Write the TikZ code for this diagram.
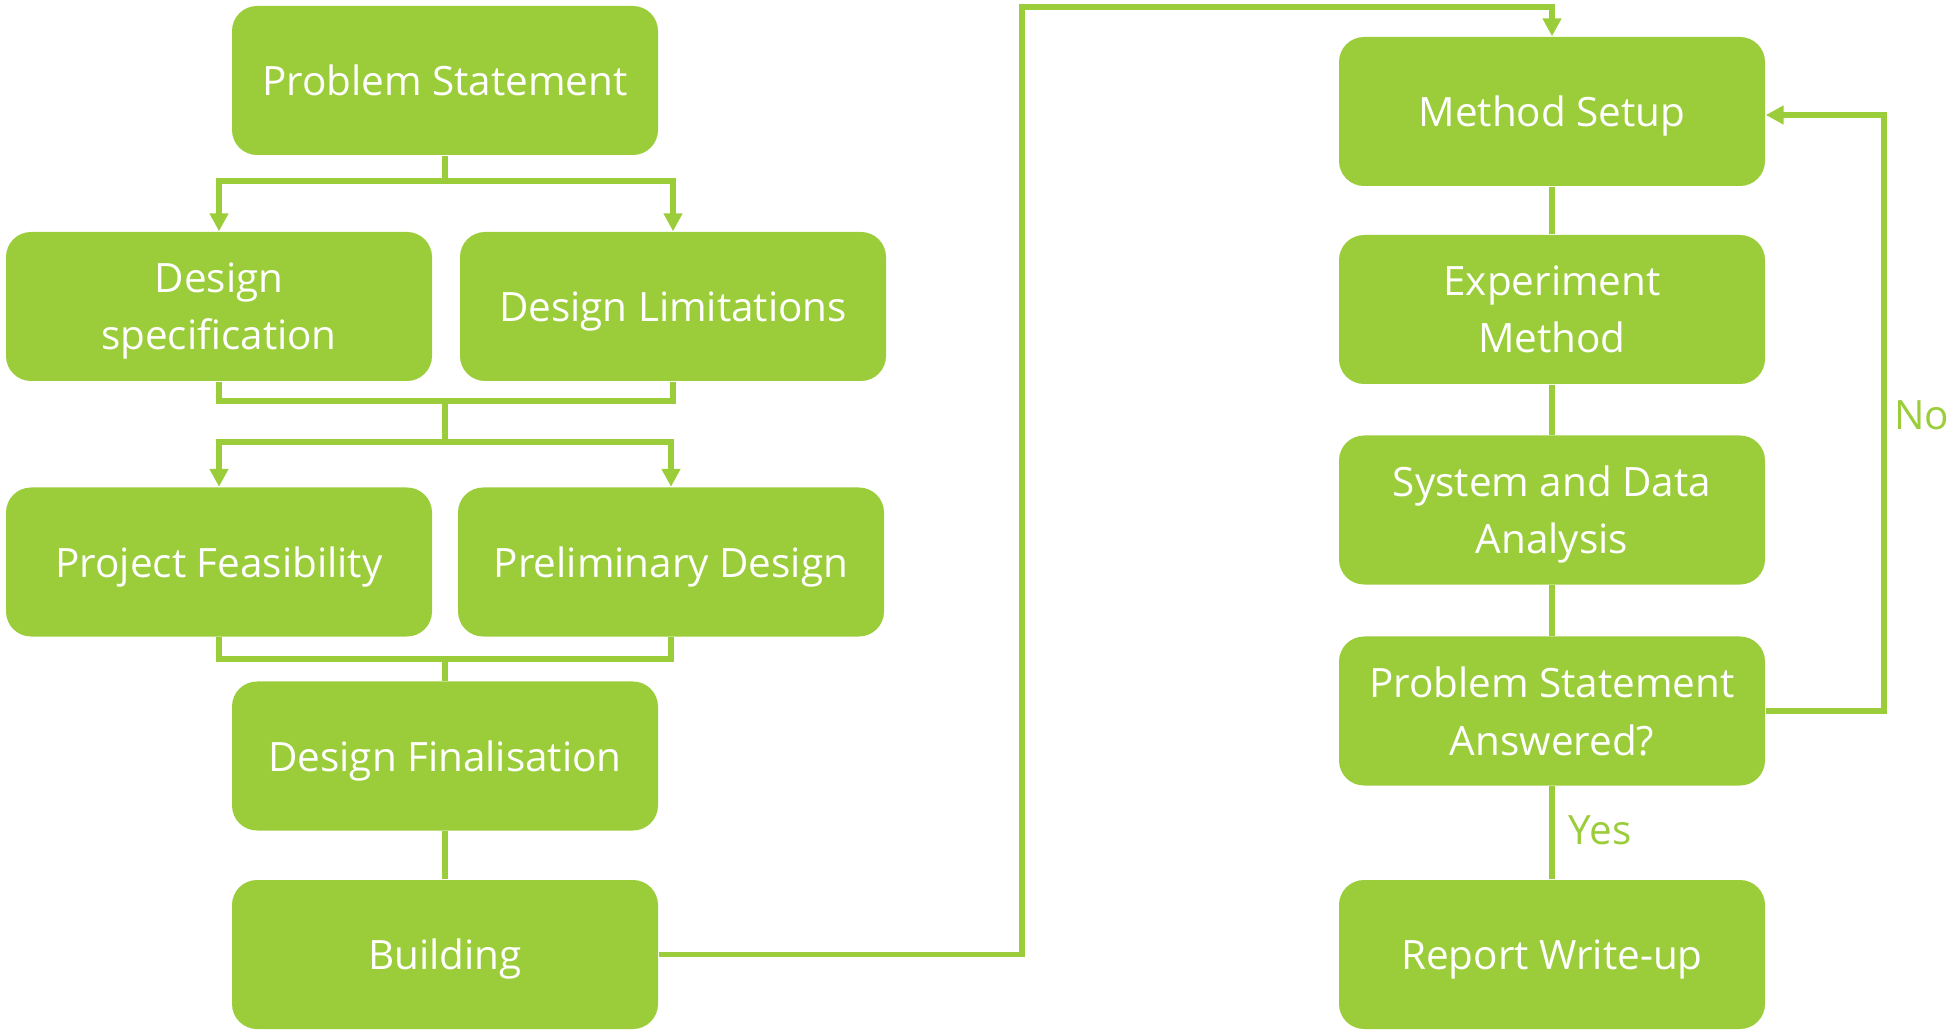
\documentclass[tikz,border=0pt]{standalone}
\usepackage{fontspec}
\setmainfont{Open Sans}
\usepackage{tikz}
\usetikzlibrary{arrows.meta}
\definecolor{MyGreen}{RGB}{155,205,58}

\begin{document}
\begin{tikzpicture}
       \tikzstyle{every node}=[font=\fontsize{11.5}{16.3}\selectfont]
       \tikzstyle{box}=[fill=MyGreen, rounded corners=0.25cm, minimum width=4.26cm,
                        minimum height=1.49cm, inner sep=0pt, text depth=0pt,
                        text=white, align=center]
       \tikzstyle{link}=[draw=MyGreen, line width=1.6pt, line join=miter]
       \tikzstyle{arr}=[link, -{Triangle[width=0.18cm,length=0.18cm]}]
       \tikzstyle{lbl}=[text=MyGreen, inner sep=0pt]
        \useasboundingbox (0,0) rectangle (19.54,10.30);

        % design branch
        \node[box] (ps) at (4.45, 9.495) {Problem Statement};
        \node[box] (dspec) at (2.19, 7.235) {Design\\specification};
        \node[box] (dlim) at (6.73, 7.235) {Design Limitations};
        \node[box] (feas) at (2.19, 4.68) {Project Feasibility};
        \node[box] (prelim) at (6.71, 4.68) {Preliminary Design};
        \node[box] (final) at (4.45, 2.74) {Design Finalisation};
        \node[box] (build) at (4.45, 0.755) {Building};

        % testing branch
        \node[box] (setup) at (15.52, 9.185) {Method Setup};
        \node[box] (expm) at (15.52, 7.205) {Experiment\\Method};
        \node[box] (sda) at (15.52, 5.20) {System and Data\\Analysis};
        \node[box] (answ) at (15.52, 3.19) {Problem Statement\\Answered?};
        \node[box] (report) at (15.52, 0.755) {Report Write-up};

        \coordinate (j1) at (4.45, 8.49);
        \coordinate (j2) at (4.45, 6.29);
        \coordinate (j3) at (4.45, 5.88);
        \coordinate (j4) at (4.45, 3.71);
        \coordinate (top) at (10.22, 10.23);
        \coordinate (back) at (18.84, 9.15);

        \draw[link] (ps.south) -- (j1);
        \draw[arr] (j1) -| (dspec.north);
        \draw[arr] (j1) -| (dlim.north);
        \draw[link] (dspec.south) |- (j2) -| (dlim.south);
        \draw[link] (j2) -- (j3);
        \draw[arr] (j3) -| (feas.north);
        \draw[arr] (j3) -| (prelim.north);
        \draw[link] (feas.south) |- (j4) -| (prelim.south);
        \draw[link] (j4) -- (final.north);
        \draw[link] (final) -- (build);
        \draw[arr] (build.east) -| (top) -| (setup.north);

        \draw[link] (setup) -- (expm);
        \draw[link] (expm) -- (sda);
        \draw[link] (sda) -- (answ);
        \draw[link] (answ) -- (report);
        \draw[arr] (answ.east) -| (back) -- (back -| setup.east);

        \node[lbl, anchor=west] (yes) at (15.68, 2.0) {Yes};
        \node[lbl, anchor=east] (no) at (19.50, 6.15) {No};
      \end{tikzpicture}
\end{document}
